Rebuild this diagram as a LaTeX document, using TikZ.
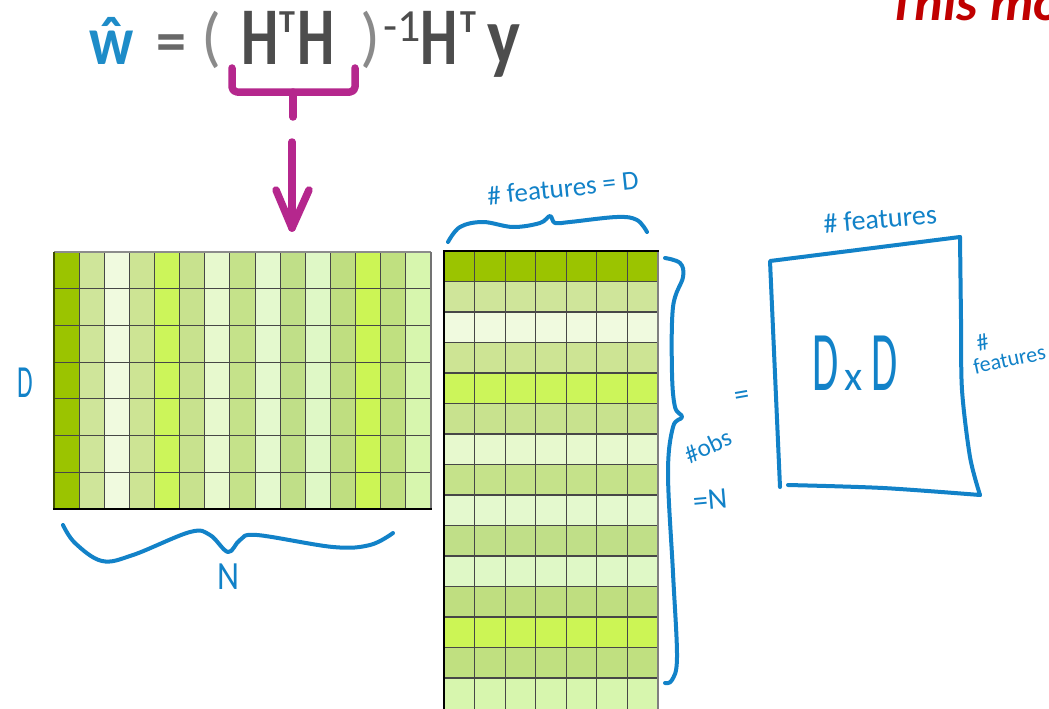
\documentclass[tikz,border=0pt]{standalone}
\usepackage{fontspec}
\usepackage{graphicx}
\setmainfont{Carlito}
\usetikzlibrary{calc}
\definecolor{ink}{HTML}{1282C8}
\definecolor{mag}{HTML}{B5278D}
\definecolor{fgray}{HTML}{4D4D4D}
\definecolor{pgray}{HTML}{8A8A8A}
\definecolor{what}{HTML}{1E8CC8}
\definecolor{redt}{HTML}{C00000}
\definecolor{c1}{HTML}{9BC400}
\definecolor{c2}{HTML}{CFE59A}
\definecolor{c3}{HTML}{F0FADF}
\definecolor{c4}{HTML}{CDE494}
\definecolor{c5}{HTML}{CCF55A}
\definecolor{c6}{HTML}{C8E28E}
\definecolor{c7}{HTML}{E7F9CE}
\definecolor{c8}{HTML}{C5E28A}
\definecolor{c9}{HTML}{E4F9CE}
\definecolor{c10}{HTML}{C0DF88}
\definecolor{c11}{HTML}{DFF8C6}
\definecolor{c12}{HTML}{BFDE80}
\definecolor{c13}{HTML}{CCF555}
\definecolor{c14}{HTML}{C0E080}
\definecolor{c15}{HTML}{D7F6AE}
\newcommand\cq[1]{\scalebox{0.72}[1]{#1}}
\newcommand\fsz[1]{\fontsize{#1}{#1}\selectfont}
\begin{document}
\begin{tikzpicture}[x=1pt,y=-1pt,
  formula/.style={inner sep=0pt, outer sep=0pt, text=fgray, font=\bfseries\fsz{82}},
  hand/.style={inner sep=0pt, outer sep=0pt, text=ink},
  inkline/.style={draw=ink, line width=4pt, line cap=round, line join=round},
  magline/.style={draw=mag, line width=7.5pt, line cap=round, line join=round},
  gridline/.style={draw=black!72, line width=1.1pt}]
\useasboundingbox (0,0) rectangle (1049,709);
\fill[white] (0,0) rectangle (1049,709);

% ---------- formula ----------
\node[formula, text=what, font=\bfseries\fsz{69}, anchor=base west] (what) at (89,65) {\scalebox{0.86}[1]{ŵ}};
\node[formula, font=\bfseries\fsz{60}, text=fgray!85] (eq) at (171,48) {=};
\node[formula, font=\fsz{66}, text=pgray] (lpar) at (212,40) {(};
\node[formula, anchor=base west] (h1) at (241,65) {\cq{H}};
\node[formula, font=\bfseries\fsz{32}, anchor=base west] (t1) at (279,33) {T};
\node[formula, anchor=base west] (h2) at (297,65) {\cq{H}};
\node[formula, font=\fsz{66}, text=pgray] (rpar) at (371,40) {)};
\node[formula, font=\fsz{46}, anchor=base west] (inv) at (383,42) {-1};
\node[formula, anchor=base west] (h3) at (420,65) {\cq{H}};
\node[formula, font=\bfseries\fsz{32}, anchor=base west] (t3) at (460,33) {T};
\node[formula, anchor=base west] (yv) at (487,65) {\scalebox{0.85}[1]{y}};

\node[inner sep=0pt, anchor=base west, text=redt, font=\bfseries\itshape\fsz{54}] (red) at (888,21) {This mo};

% magenta brace and arrow
\coordinate (bl) at (232,68);
\coordinate (br) at (355,68);
\coordinate (bstem) at (293,117);
\draw[magline, rounded corners=5pt] (bl) -- (232,92) -- (355,92) -- (br);
\draw[magline] (293,92) -- (bstem);
\coordinate (arrowstart) at (292,142);
\coordinate (arrowend) at (292,228);
\draw[magline] (arrowstart) -- (arrowend);
\draw[magline] ($(arrowend)+(-16,-38)$) -- (arrowend) -- ($(arrowend)+(17,-38)$);

% ---------- left matrix (D x N) ----------
\foreach \i in {1,...,15}
  \fill[c\i] ({54+(\i-1)*25.133},252) rectangle ++(25.4,257);
\foreach \i in {1,...,14}
  \draw[gridline] ({54+\i*25.133},252) -- ++(0,257);
\foreach \j in {1,...,6}
  \draw[gridline] (54,{252+\j*36.71}) -- (431,{252+\j*36.71});
\draw[black!45, line width=1.4pt] (54,252) -- (431,252);
\draw[black!55, line width=1.2pt] (431,252) -- (431,509);
\draw[black!60!c1, line width=1.4pt] (54,252) -- (54,509);
\draw[black, line width=2.6pt] (53,509) -- (432,509);

% ---------- right matrix (N x D) ----------
\foreach \i in {1,...,15}
  \fill[c\i] (444,{251+(\i-1)*30.5}) rectangle ++(214,30.8);
\foreach \i in {1,...,6}
  \draw[gridline] ({444+\i*30.57},251) -- ++(0,460);
\foreach \j in {1,...,14}
  \draw[gridline] (444,{251+\j*30.5}) -- ++(214,0);
\draw[black!50, line width=1.2pt] (658,251) -- (658,712);
\draw[black, line width=1.8pt] (444,251) -- (444,712);
\draw[black, line width=2.8pt] (443,251) -- (659,251);

% ---------- blue hand annotations ----------
\node[hand, font=\fsz{46}] (dlab) at (25,383) {\scalebox{0.55}[1]{D}};
\draw[inkline] plot[smooth, tension=0.6] coordinates {(63,525) (75,543) (102,561) (133,555) (190,532) (210,535) (228,552) (240,540) (257,535) (333,547) (370,545) (393,533)};
\node[hand, font=\fsz{40}] (nlab) at (228,577) {\scalebox{0.85}[1]{N}};

\draw[inkline] plot[smooth, tension=0.6] coordinates {(448,242) (460,227) (483,222) (513,227) (540,223) (550,216) (555,223) (570,222) (617,217) (637,220) (647,232)};
\node[hand, font=\fsz{27}, rotate=6] (featD) at (563,188) {\# features = D};

\draw[inkline] plot[smooth, tension=0.6] coordinates {(665,258) (680,263) (683,277) (673,307) (672,373) (675,407) (682,417) (673,427) (668,473) (673,573) (677,657) (672,680) (665,683)};
\node[hand, font=\fsz{25}, rotate=25] (obs) at (708,446) {\#obs};
\node[hand, font=\fsz{30}, rotate=5] (eqn) at (710,500) {=N};
\node[hand, font=\fsz{30}, rotate=10] (eqbox) at (742,398) {=};

% D x D box
\coordinate (tl) at (770,261);
\coordinate (tr) at (960,237);
\coordinate (lb) at (780,487);
\coordinate (bl2) at (788,485);
\coordinate (br2) at (980,495);
\draw[inkline] (lb) -- (tl) -- (tr);
\draw[inkline] plot[smooth, tension=0.5] coordinates {(tr) (961,320) (962,390) (970,457) (br2)};
\draw[inkline] plot[smooth, tension=0.5] coordinates {(bl2) (883,488) (br2)};
\node[hand, anchor=base] (dxd) at (855,390) {\fsz{85}\scalebox{0.5}[1]{D}\hspace{6pt}{\fsz{42}x}\hspace{8pt}\scalebox{0.5}[1]{D}};
\node[hand, font=\fsz{28}, rotate=5] (ftop) at (880,219) {\# features};
\node[hand, font=\fsz{22}, rotate=12, align=left] (fside) at (1007,348) {\hspace{8pt}\fsz{24}\#\\features};
\end{tikzpicture}
\end{document}
